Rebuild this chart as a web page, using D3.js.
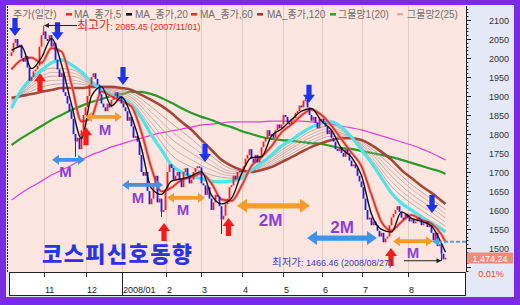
<!DOCTYPE html>
<html><head><meta charset="utf-8">
<script src="https://cdn.jsdelivr.net/npm/d3@7/dist/d3.min.js"></script>
<style>html,body{margin:0;padding:0;background:#fff}svg{display:block}</style>
</head><body>
<svg id="chart" width="520" height="305"></svg>
<script>
// ---------------- data ----------------
const monthTickIdx = [16, 37, 55, 77, 95, 115, 136, 155, 175, 198];
const monthTickLabels = ["11", "12", "2008/01", "2", "3", "4", "5", "6", "7", "8"];
const yTicks = [1500, 1550, 1600, 1650, 1700, 1750, 1800, 1850, 1900, 1950, 2000, 2050, 2100];
const firstOpen = 2005;
const closes = [
 2015,2040,2050,2030,2035,2000,1990,2005,1975,1940,1950,1965,1970,1980,2030,2060,
 2070,2050,2045,2060,2030,2040,1995,1970,1950,1960,1910,1900,1880,1860,1840,1800,1780,1790,1760,1810,1850,
 1870,1900,1930,1950,1960,1945,1930,1905,1880,1870,1860,1880,1870,1890,1900,1910,1895,1900,
 1880,1870,1860,1835,1845,1820,1790,1795,1780,1745,1700,1690,1700,1650,1615,1630,1670,1690,1620,1630,1595,1600,
 1650,1700,1720,1710,1680,1690,1700,1680,1660,1700,1710,1690,1670,1680,1700,1710,1715,1712,
 1670,1665,1640,1660,1630,1600,1620,1640,1635,1610,1575,1585,1615,1630,1660,1665,1690,1680,1700,1703,
 1700,1715,1735,1745,1760,1735,1725,1745,1725,1740,1765,1780,1790,1810,1795,1800,1790,1810,1825,1815,1825,
 1850,1845,1830,1825,1838,1842,1855,1860,1875,1870,1888,1890,1870,1850,1835,1845,1830,1815,1840,
 1840,1830,1820,1800,1810,1790,1780,1760,1755,1765,1750,1740,1760,1750,1730,1715,1720,1710,1690,1675,
 1660,1630,1600,1575,1580,1560,1570,1560,1545,1530,1540,1515,1525,1530,1560,1580,1590,1600,1610,1595,1580,1575,1590,
 1580,1570,1575,1565,1570,1580,1575,1560,1565,1570,1555,1560,1540,1520,1540,1505,1510,1485,1470,1474.24
];
const wickExtremes = [[16, 2085.45], [32, 1740], [75, 1582], [105, 1537], [147, 1901], [215, 1466.46]];

// moving-average lines, read every 5 trading days (last point = final day)
const ma5 = [2020,2031,1972,2001,2051,1983,1878,1788,1900,1924,1874,1897,1846,1762,1657,1641,1676,1682,1690,1701,1639,1616,1631,1695,1738,1740,1795,1813,1838,1860,1867,1834,1810,1762,1739,1691,1589,1549,1542,1595,1578,1570,1558,1512,1489];
const ma10 = [1970,1995,2001,1987,2026,2017,1931,1833,1844,1912,1899,1886,1872,1804,1710,1649,1659,1679,1686,1696,1670,1628,1624,1663,1716,1739,1768,1804,1825,1849,1864,1850,1822,1786,1751,1715,1640,1569,1546,1569,1587,1574,1564,1535,1516];
const ma20 = [1868,1916,1947,1968,1987,1995,1982,1963,1937,1918,1903,1892,1876,1842,1797,1758,1718,1700,1689,1682,1676,1674,1676,1684,1705,1724,1745,1768,1784,1803,1818,1829,1832,1818,1792,1758,1724,1684,1645,1618,1600,1582,1566,1550,1542];
const ma60 = [1895,1900,1905,1911,1916,1921,1921,1921,1924,1924,1924,1921,1916,1903,1889,1874,1855,1832,1811,1784,1758,1732,1716,1705,1700,1705,1713,1726,1739,1753,1766,1776,1784,1789,1789,1784,1771,1753,1732,1705,1684,1663,1645,1624,1616];
const ma120 = [1771,1789,1805,1821,1837,1850,1863,1874,1884,1892,1900,1905,1911,1911,1905,1895,1882,1868,1855,1845,1837,1826,1818,1808,1800,1792,1787,1784,1782,1779,1776,1774,1768,1763,1761,1755,1750,1745,1739,1732,1724,1716,1708,1700,1695];
const ma240 = [1626,1645,1661,1676,1692,1705,1718,1732,1745,1755,1766,1774,1782,1789,1797,1803,1808,1813,1818,1824,1826,1829,1832,1832,1832,1832,1834,1834,1834,1834,1832,1829,1826,1821,1816,1811,1803,1795,1787,1779,1771,1761,1750,1737,1732];
// 그물망 lines, read every 10 trading days (last point = final day)
const net1 = [1873,1939,1973,1970,1934,1907,1884,1815,1745,1713,1692,1684,1704,1739,1775,1808,1822,1791,1733,1662,1617,1582,1557];
const net2 = [1877,1932,1962,1961,1932,1910,1890,1829,1766,1732,1705,1690,1703,1734,1768,1800,1815,1791,1740,1675,1629,1594,1568];
const net3 = [1882,1926,1952,1952,1931,1914,1896,1843,1787,1750,1717,1696,1703,1729,1762,1792,1808,1790,1748,1689,1642,1606,1579];
const net4 = [1886,1920,1941,1942,1929,1917,1902,1857,1807,1768,1729,1702,1702,1724,1755,1784,1801,1790,1755,1702,1655,1617,1590];
const net5 = [1890,1913,1930,1933,1927,1920,1908,1871,1828,1787,1742,1708,1701,1719,1748,1776,1794,1790,1762,1715,1667,1629,1601];

// annotations (day index, price)
const downArrows = [[1.75, 2058], [23, 2047], [55.75, 1929], [96.75, 1726], [148.75, 1882], [210.25, 1592]];
const upArrows = [[14.25, 1960], [37.25, 1818], [76.25, 1566], [108.5, 1579], [189.75, 1500]];
const spanArrows = [
 {from: 20.25, to: 36.75, value: 1732, color: "blue", label: "M", lx: 27, lv: 1687},
 {from: 36.75, to: 55.25, value: 1845, color: "orange", label: "M", lx: 46.75, lv: 1797},
 {from: 55.25, to: 75.75, value: 1666, color: "blue", label: "M", lx: 63.25, lv: 1618},
 {from: 77.75, to: 96.75, value: 1632, color: "orange", label: "M", lx: 85.75, lv: 1587},
 {from: 112.75, to: 149.25, value: 1611, color: "orange", label: "2M", lx: 129.5, lv: 1558},
 {from: 147.75, to: 182.75, value: 1526, color: "blue", label: "2M", lx: 165.25, lv: 1539},
 {from: 190.75, to: 210.75, value: 1518, color: "orange", label: "M", lx: 200.75, lv: 1474}
];
const legendItems = [
 {text: "주가(일간)", tx: 13, mx: null, color: null},
 {text: "MA_종가,5", tx: 74, mx: 66, color: "#e8302a"},
 {text: "MA_종가,20", tx: 135, mx: 126, color: "#111"},
 {text: "MA_종가,60", tx: 200, mx: 191, color: "#e8302a"},
 {text: "MA_종가,120", tx: 267, mx: 257, color: "#b0302a"},
 {text: "그물망1(20)", tx: 338, mx: 330, color: "#2da02d"},
 {text: "그물망2(25)", tx: 407, mx: 397, color: "#e0b0b0"}
];
const highNote = {idx: 16.25, value: 2085.45, label: "최고가", text: ": 2085.45 (2007/11/01)"};
const lowNote = {idx: 215, value: 1466.46, label: "최저가", text: ": 1466.46 (2008/08/27)"};
const lastPrice = "1,474.24", lastChange = "0.01%", lastValue = 1516.6;
const title = "코스피신호동향";

// ---------------- drawing ----------------
const svg = d3.select("#chart");
const P = {l: 8, r: 466, t: 6, b: 272};
const x = d3.scaleLinear().domain([0, closes.length - 1]).range([11.5, 445.5]);
const y = d3.scaleLinear().domain([1500, 2100]).range([248, 20]);
const FONT = "'Liberation Sans', Arial, 'Noto Sans CJK KR', sans-serif";

svg.append("rect").attr("width", 520).attr("height", 305).attr("fill", "#7b2be2");
svg.append("rect").attr("x", 6).attr("y", 5).attr("width", 508).attr("height", 292).attr("fill", "#e4e8f7");
svg.append("rect").attr("x", P.l).attr("y", P.t).attr("width", P.r - P.l).attr("height", P.b - P.t).attr("fill", "#fde6df");
svg.append("defs").append("clipPath").attr("id", "clip").append("rect")
  .attr("x", P.l).attr("y", P.t).attr("width", P.r - P.l).attr("height", P.b - P.t);

// month gridlines
svg.append("g").selectAll("line").data(monthTickIdx).join("line")
  .attr("x1", d => Math.round(x(d)) + 0.5).attr("x2", d => Math.round(x(d)) + 0.5)
  .attr("y1", P.t).attr("y2", P.b).attr("stroke", "#e3cbc5").attr("stroke-width", 1);

// left dotted edge
svg.append("line").attr("x1", 7.5).attr("x2", 7.5).attr("y1", P.t).attr("y2", P.b)
  .attr("stroke", "#222").attr("stroke-dasharray", "2,1");

const g = svg.append("g").attr("clip-path", "url(#clip)");
const idx5 = d3.range(0, closes.length - 2, 5).concat([closes.length - 1]);
const idx10 = d3.range(0, closes.length - 6, 10).concat([closes.length - 1]);
const lineGen = d3.line().x(d => x(d[0])).y(d => y(d[1])).curve(d3.curveMonotoneX);
function drawLine(vals, idxs, color, width, opacity) {
  g.append("path").datum(vals.map((v, i) => [idxs[i], v]))
    .attr("d", lineGen).attr("fill", "none").attr("stroke", color)
    .attr("stroke-width", width).attr("stroke-opacity", opacity || 1)
    .attr("stroke-linejoin", "round");
}
drawLine(ma240, idx5, "#e040e0", 1.2);
drawLine(ma120, idx5, "#2a9a2a", 2.2);
[net1, net2, net3, net4, net5].forEach((n, k) =>
  drawLine(n, idx10, k % 2 ? "#c8aaa6" : "#b79a96", 0.9, 0.9));
drawLine(ma60, idx5, "#a5463a", 2.6);
drawLine(ma20, idx5, "#4fe3ea", 3.2);
drawLine(ma10, idx5, "#f08a80", 3.2, 0.7);
drawLine(ma10, idx5, "#e0302a", 1.6);

// candles
const candles = closes.map((c, i) => ({i, o: i ? closes[i - 1] : firstOpen, c}));
g.append("g").selectAll("rect").data(candles).join("rect")
  .attr("x", d => x(d.i) - 0.9).attr("width", 1.8)
  .attr("y", d => y(Math.max(d.o, d.c)))
  .attr("height", d => Math.max(1.5, Math.abs(y(d.o) - y(d.c))))
  .attr("fill", d => d.c >= d.o ? "#ff1a1a" : "#1a1aff");
g.append("g").selectAll("line").data(wickExtremes).join("line")
  .attr("x1", d => x(d[0])).attr("x2", d => x(d[0]))
  .attr("y1", d => y(closes[d[0]])).attr("y2", d => y(d[1]))
  .attr("stroke", d => closes[d[0]] >= (d[0] ? closes[d[0] - 1] : firstOpen) ? "#ff1a1a" : "#1a1aff")
  .attr("stroke-width", 1);

drawLine(ma5, idx5, "#111", 1.4);

// arrows
const ann = svg.append("g");
function vArrow(tx, ty, dir, color) {
  const s = dir;
  const pts = [[0, 0], [6, -8 * s], [2.6, -8 * s], [2.6, -18 * s], [-2.6, -18 * s], [-2.6, -8 * s], [-6, -8 * s]];
  ann.append("polygon").attr("points", pts.map(p => [tx + p[0], ty + p[1]].join(",")).join(" "))
    .attr("fill", color);
}
downArrows.forEach(d => vArrow(x(d[0]), y(d[1]), 1, "#1c34f2"));
upArrows.forEach(d => vArrow(x(d[0]), y(d[1]), -1, "#f21a1a"));

function hArrow(x1, x2, yc, s, h, L, color) {
  const pts = [[x1, yc], [x1 + L, yc - h], [x1 + L, yc - s], [x2 - L, yc - s], [x2 - L, yc - h], [x2, yc],
               [x2 - L, yc + h], [x2 - L, yc + s], [x1 + L, yc + s], [x1 + L, yc + h]];
  ann.append("polygon").attr("points", pts.map(p => p.join(",")).join(" ")).attr("fill", color);
}
spanArrows.forEach(a => {
  const big = a.label === "2M";
  const col = a.color === "blue" ? "#3f93ea" : "#f59c2c";
  hArrow(x(a.from), x(a.to), y(a.value), big ? 2.6 : 1.8, big ? 7 : 5, big ? 10 : 7, col);
  ann.append("text").attr("x", x(a.lx)).attr("y", y(a.lv)).attr("text-anchor", "middle")
    .attr("font-family", FONT).attr("font-weight", "bold").attr("font-size", big ? 17 : 15)
    .attr("fill", "#8d3fdc").text(a.label);
});

// last-price dashed pointer
const ly = y(lastValue);
ann.append("line").attr("x1", x(210.25) + 6).attr("x2", P.r).attr("y1", ly).attr("y2", ly)
  .attr("stroke", "#4aa2f2").attr("stroke-width", 2).attr("stroke-dasharray", "4,2");
ann.append("polygon").attr("points", [[x(210.25), ly], [x(210.25) + 7, ly - 4], [x(210.25) + 7, ly + 4]].map(p => p.join(",")).join(" "))
  .attr("fill", "#4aa2f2");

// high note
const hx = x(highNote.idx), hy = y(highNote.value);
ann.append("line").attr("x1", hx + 4).attr("x2", 77).attr("y1", hy).attr("y2", hy).attr("stroke", "#222").attr("stroke-width", 1);
ann.append("polygon").attr("points", `${hx},${hy} ${hx + 5},${hy - 2.5} ${hx + 5},${hy + 2.5}`).attr("fill", "#222");
const ht = ann.append("text").attr("x", 77).attr("y", hy + 4).attr("font-family", FONT).attr("fill", "#e8262a");
ht.append("tspan").attr("font-size", 12).text(highNote.label);
ht.append("tspan").attr("font-size", 9).text(highNote.text);

// low note
const lx = x(lowNote.idx), lyy = y(lowNote.value);
ann.append("line").attr("x1", 404).attr("x2", lx - 4).attr("y1", lyy).attr("y2", lyy).attr("stroke", "#222").attr("stroke-width", 1);
ann.append("polygon").attr("points", `${lx},${lyy} ${lx - 5},${lyy - 2.5} ${lx - 5},${lyy + 2.5}`).attr("fill", "#222");
const lt = ann.append("text").attr("x", 272).attr("y", lyy + 5).attr("font-family", FONT).attr("fill", "#3a3ec4");
lt.append("tspan").attr("font-size", 10.5).text(lowNote.label);
lt.append("tspan").attr("font-size", 9).text(lowNote.text);

// title
svg.append("text").attr("x", 42).attr("y", 262).attr("font-family", "'Noto Sans CJK KR', sans-serif")
  .attr("font-weight", 900).attr("font-size", 22).attr("letter-spacing", 1.4)
  .attr("fill", "#2a34e2").text(title);

// legend
const lg = svg.append("g").attr("font-family", FONT).attr("font-size", 10).attr("fill", "#6e6e6e");
legendItems.forEach(it => {
  if (it.mx != null) lg.append("rect").attr("x", it.mx).attr("y", 13).attr("width", 6).attr("height", 2.6).attr("fill", it.color);
  lg.append("text").attr("x", it.tx).attr("y", 18).text(it.text);
});

// right axis
const ra = svg.append("g");
ra.append("line").attr("x1", P.r + 0.5).attr("x2", P.r + 0.5).attr("y1", P.t).attr("y2", P.b).attr("stroke", "#222");
const minor = d3.range(1440, 2140, 10).filter(v => y(v) >= P.t && y(v) <= P.b);
ra.selectAll("line.mn").data(minor).join("line").attr("class", "mn")
  .attr("x1", P.r).attr("x2", d => P.r + (d % 50 === 0 ? 5 : 2.5))
  .attr("y1", d => Math.round(y(d)) + 0.5).attr("y2", d => Math.round(y(d)) + 0.5).attr("stroke", "#222");
ra.selectAll("text").data(yTicks).join("text")
  .attr("x", 509).attr("y", d => y(d) + 3.5).attr("text-anchor", "end")
  .attr("font-family", FONT).attr("font-size", 9).attr("fill", "#333").text(d => d);

// price box
svg.append("rect").attr("x", 467).attr("y", 252.5).attr("width", 46).attr("height", 11).attr("fill", "#f38a7b");
svg.append("text").attr("x", 490).attr("y", 261.5).attr("text-anchor", "middle").attr("font-family", FONT)
  .attr("font-size", 9).attr("fill", "#fff").text(lastPrice);
svg.append("text").attr("x", 491).attr("y", 276.5).attr("text-anchor", "middle").attr("font-family", FONT)
  .attr("font-size", 9).attr("fill", "#e8403a").text(lastChange);

// bottom axis
svg.append("rect").attr("x", 9.5).attr("y", 272.5).attr("width", 456).attr("height", 23).attr("fill", "#fff").attr("stroke", "#222");
const xa = svg.append("g");
xa.selectAll("line").data(monthTickIdx).join("line")
  .attr("x1", d => Math.round(x(d)) + 0.5).attr("x2", d => Math.round(x(d)) + 0.5)
  .attr("y1", 272).attr("y2", (d, i) => monthTickLabels[i].length > 2 ? 296 : 277).attr("stroke", "#222");
xa.selectAll("text").data(monthTickIdx).join("text")
  .attr("x", d => Math.round(x(d)) + 1).attr("y", 292.5)
  .attr("font-family", FONT).attr("font-size", 9).attr("fill", "#222")
  .text((d, i) => monthTickLabels[i]);
</script>
</body></html>
